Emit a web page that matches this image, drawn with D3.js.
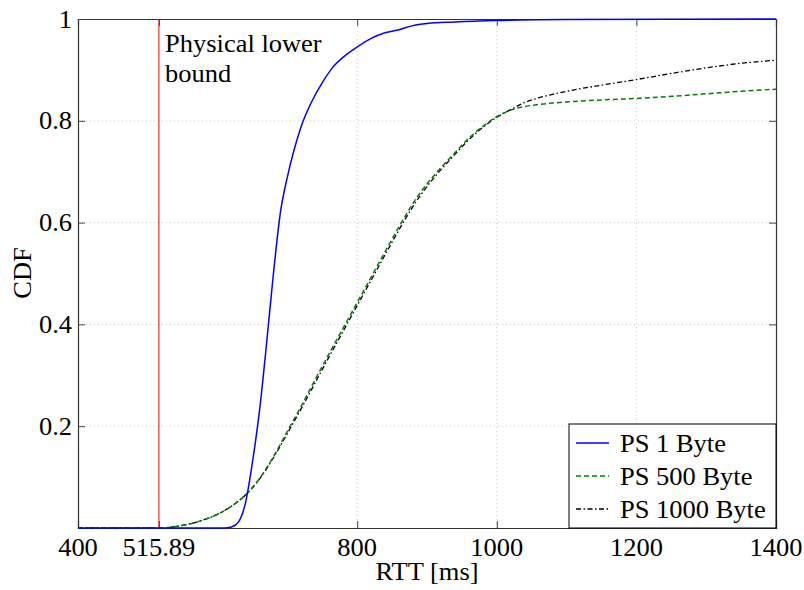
<!DOCTYPE html>
<html><head><meta charset="utf-8">
<script src="https://cdn.jsdelivr.net/npm/d3@7"></script>
<style>body{margin:0;background:#fff}</style>
</head><body>
<svg id="c" width="804" height="590"></svg>
<script>
const xTicks = [400, 515.89, 800, 1000, 1200, 1400];
const xTickLabels = ["400", "515.89", "800", "1000", "1200", "1400"];
const yTicks = [0.2, 0.4, 0.6, 0.8, 1];
const yTickLabels = ["0.2", "0.4", "0.6", "0.8", "1"];
const lowerBound = 515.89;

const rtt1 = [400, 610, 620, 630, 640, 650, 660, 670, 680, 690, 700, 710, 720, 735, 750, 765, 780, 800, 820, 840, 860, 880, 900, 940, 1000, 1100, 1400];
const cdf1 = [0, 0, 0.002, 0.012, 0.05, 0.13, 0.23, 0.36, 0.5, 0.62, 0.69, 0.745, 0.79, 0.838, 0.875, 0.905, 0.925, 0.945, 0.962, 0.973, 0.979, 0.987, 0.991, 0.994, 0.997, 0.999, 1.0];

const rtt500 = [400, 520, 540, 560, 580, 600, 620, 640, 660, 680, 700, 720, 740, 760, 780, 800, 820, 840, 860, 880, 900, 920, 940, 960, 980, 1000, 1020, 1040, 1060, 1080, 1100, 1150, 1200, 1250, 1300, 1350, 1400];
const cdf500 = [0, 0, 0.003, 0.008, 0.016, 0.027, 0.043, 0.065, 0.097, 0.14, 0.19, 0.24, 0.292, 0.343, 0.393, 0.443, 0.493, 0.543, 0.592, 0.638, 0.676, 0.708, 0.737, 0.766, 0.789, 0.808, 0.821, 0.828, 0.832, 0.835, 0.837, 0.841, 0.844, 0.848, 0.853, 0.858, 0.862];

const rtt1000 = [400, 520, 540, 560, 580, 600, 620, 640, 660, 680, 700, 720, 740, 760, 780, 800, 820, 840, 860, 880, 900, 920, 940, 960, 980, 1000, 1020, 1040, 1060, 1080, 1100, 1150, 1200, 1250, 1300, 1350, 1400];
const cdf1000 = [0, 0, 0.003, 0.008, 0.016, 0.027, 0.043, 0.065, 0.096, 0.138, 0.186, 0.235, 0.286, 0.337, 0.387, 0.437, 0.487, 0.537, 0.586, 0.632, 0.671, 0.704, 0.734, 0.763, 0.787, 0.807, 0.822, 0.836, 0.845, 0.852, 0.858, 0.870, 0.881, 0.893, 0.904, 0.913, 0.919];

const seriesNames = ["PS 1 Byte", "PS 500 Byte", "PS 1000 Byte"];
const annotation = ["Physical lower", "bound"];

const svg = d3.select("#c");
const L = 78, R = 776, T = 19, B = 528;
const x = d3.scaleLinear().domain([400, 1400]).range([L, R]);
const y = d3.scaleLinear().domain([0, 1]).range([B, T]);
const font = "'Liberation Serif', 'Times New Roman', serif";
const FS = 25, SX = 1.06;

function txt(g, s, px, py, anchor, rot) {
  const t = g.append("text").text(s)
    .attr("font-family", font).attr("font-size", FS).attr("fill", "#000")
    .attr("text-anchor", anchor || "start")
    .attr("transform", `translate(${px},${py})` + (rot ? ` rotate(${rot})` : "") + ` scale(${SX},1)`);
  return t;
}

// grid
const grid = svg.append("g");
xTicks.filter(v => v > 400 && v < 1400 && v !== lowerBound).forEach(v => {
  grid.append("line").attr("x1", x(v)).attr("x2", x(v)).attr("y1", T).attr("y2", B)
    .attr("stroke", "#c8c8c8").attr("stroke-width", 1).attr("stroke-dasharray", "1,3");
});
yTicks.filter(v => v < 1).forEach(v => {
  grid.append("line").attr("x1", L).attr("x2", R).attr("y1", y(v)).attr("y2", y(v))
    .attr("stroke", "#c8c8c8").attr("stroke-width", 1).attr("stroke-dasharray", "1,3");
});

// axes with inward ticks
const xb = svg.append("g").attr("transform", `translate(0,${B})`)
  .call(d3.axisBottom(x).tickValues(xTicks).tickSize(-7).tickFormat(""));
const xt = svg.append("g").attr("transform", `translate(0,${T})`)
  .call(d3.axisTop(x).tickValues(xTicks).tickSize(-7).tickFormat(""));
const yl = svg.append("g").attr("transform", `translate(${L},0)`)
  .call(d3.axisLeft(y).tickValues(yTicks).tickSize(-7).tickFormat(""));
const yr = svg.append("g").attr("transform", `translate(${R},0)`)
  .call(d3.axisRight(y).tickValues(yTicks).tickSize(-7).tickFormat(""));
[xb, xt, yl, yr].forEach(g => {
  g.selectAll("path.domain").attr("stroke", "#333").attr("stroke-width", 1.2);
  g.selectAll(".tick line").attr("stroke", "#444").attr("stroke-width", 1);
});

// tick labels
const lab = svg.append("g");
xTicks.forEach((v, i) => txt(lab, xTickLabels[i], x(v), 556, "middle"));
yTicks.forEach((v, i) => txt(lab, yTickLabels[i], 72, y(v) + 8.5, "end"));
txt(lab, "RTT [ms]", 427, 580, "middle");
txt(lab, "CDF", 31, 273, "middle", -90);

// lower bound
svg.append("line").attr("x1", x(lowerBound)).attr("x2", x(lowerBound))
  .attr("y1", y(0)).attr("y2", y(1)).attr("stroke", "#ff0000").attr("stroke-width", 1);
txt(lab, annotation[0], 165, 52, "start");
txt(lab, annotation[1], 165, 82, "start");

const line = d3.line().x(d => x(d[0])).y(d => y(d[1])).curve(d3.curveMonotoneX);
const styles = [
  {color: "#0000ff", dash: null, w: 1.5},
  {color: "#008000", dash: "5,3", w: 1.5},
  {color: "#000000", dash: "5,2.5,1.5,2.5", w: 1.3}
];
const data = [d3.zip(rtt1, cdf1), d3.zip(rtt500, cdf500), d3.zip(rtt1000, cdf1000)];
[2, 1, 0].forEach(i => {
  svg.append("path").datum(data[i]).attr("d", line).attr("fill", "none")
    .attr("stroke", styles[i].color).attr("stroke-width", styles[i].w)
    .attr("stroke-dasharray", styles[i].dash);
});

// legend
const lg = svg.append("g");
lg.append("rect").attr("x", 569).attr("y", 424).attr("width", R - 569).attr("height", B - 424)
  .attr("fill", "#fff").attr("stroke", "#000").attr("stroke-width", 1);
seriesNames.forEach((n, i) => {
  const cy = 443 + i * 33;
  lg.append("line").attr("x1", 576).attr("x2", 609).attr("y1", cy).attr("y2", cy)
    .attr("stroke", styles[i].color).attr("stroke-width", styles[i].w)
    .attr("stroke-dasharray", styles[i].dash);
  txt(lg, n, 620, cy + 8.5, "start");
});
</script>
</body></html>
